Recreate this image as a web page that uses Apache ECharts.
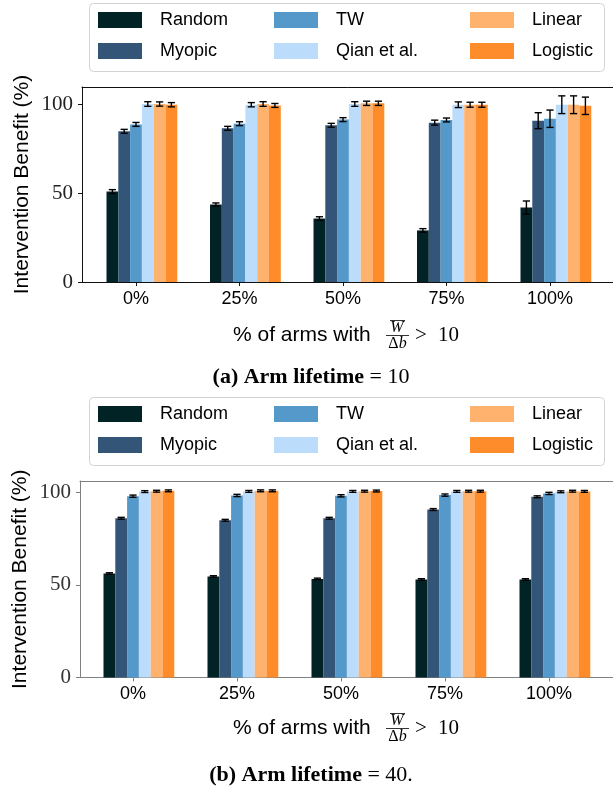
<!DOCTYPE html>
<html><head><meta charset="utf-8">
<script src="https://cdn.jsdelivr.net/npm/echarts@6/dist/echarts.min.js"></script>
<style>html,body{margin:0;padding:0;background:#fff}#c{width:613px;height:789px}</style>
</head><body><div id="c"></div>
<script>
// ---- data ----
const categories = ['0%', '25%', '50%', '75%', '100%'];
const methods = ['Random', 'Myopic', 'TW', 'Qian et al.', 'Linear', 'Logistic'];
const yTicks = [0, 50, 100];

// (a) Arm lifetime = 10
const random10   = [51.0, 43.7, 35.8, 29.1, 42.0];
const myopic10   = [85.0, 86.7, 88.4, 89.9, 91.0];
const tw10       = [88.9, 89.3, 91.6, 91.4, 92.1];
const qian10     = [100.4, 100.0, 100.4, 100.0, 100.0];
const linear10   = [100.4, 100.4, 100.8, 100.0, 100.0];
const logistic10 = [100.0, 99.6, 100.8, 100.0, 99.4];
const random10Err   = [1.1, 0.9, 1.0, 1.0, 3.7];
const myopic10Err   = [1.1, 1.1, 1.1, 1.4, 4.5];
const tw10Err       = [1.1, 1.1, 1.1, 1.1, 4.9];
const qian10Err     = [1.3, 1.2, 1.3, 1.6, 5.0];
const linear10Err   = [1.2, 1.3, 1.2, 1.4, 5.0];
const logistic10Err = [1.2, 1.1, 1.2, 1.4, 4.9];

// (b) Arm lifetime = 40
const random40   = [56.1, 54.5, 53.2, 52.9, 52.9];
const myopic40   = [85.9, 84.8, 85.9, 90.6, 97.5];
const tw40       = [97.8, 98.2, 98.0, 98.4, 99.3];
const qian40     = [100.3, 100.4, 100.4, 100.4, 100.2];
const linear40   = [100.5, 100.7, 100.5, 100.5, 100.5];
const logistic40 = [100.7, 100.7, 100.6, 100.5, 100.4];
const random40Err   = [0.4, 0.4, 0.4, 0.4, 0.4];
const myopic40Err   = [0.5, 0.5, 0.5, 0.5, 0.5];
const tw40Err       = [0.6, 0.6, 0.6, 0.6, 0.6];
const qian40Err     = [0.5, 0.5, 0.5, 0.5, 0.5];
const linear40Err   = [0.5, 0.5, 0.5, 0.5, 0.5];
const logistic40Err = [0.5, 0.5, 0.5, 0.5, 0.5];

const colors = ['#022326', '#335577', '#5598ca', '#bcdcfc', '#ffb26e', '#ff8c2a'];

// ---- layout ----
const BW = 11.8;
const panels = [
  { L: 82, T: 87, H: 195, M: 110, catL: 84.25, catW: 517.5, frame: '#111', lab: '#222',
    vals: [random10, myopic10, tw10, qian10, linear10, logistic10],
    errs: [random10Err, myopic10Err, tw10Err, qian10Err, linear10Err, logistic10Err],
    legTop: 3, yTitleX: 22, titleY: 335, capY: 377, cap: '{b|(a) Arm lifetime} = 10' },
  { L: 80, T: 481, H: 196.5, M: 106, catL: 81, catW: 520, frame: '#808080', lab: '#333',
    vals: [random40, myopic40, tw40, qian40, linear40, logistic40],
    errs: [random40Err, myopic40Err, tw40Err, qian40Err, linear40Err, logistic40Err],
    legTop: 397, yTitleX: 20, titleY: 728, capY: 775, cap: '{b|(b) Arm lifetime} = 40.' }
];

const grid = [], xAxis = [], yAxis = [], series = [], legend = [], graphic = [];
const sans = '"Liberation Sans", Arial, sans-serif';
const serif = '"Liberation Serif", "Times New Roman", serif';

panels.forEach((p, pi) => {
  const g0 = grid.length;
  grid.push({ left: p.L, top: p.T, width: 540, height: p.H, outerBoundsMode: 'none', containLabel: false });
  grid.push({ left: p.catL, top: p.T, width: p.catW, height: p.H, outerBoundsMode: 'none', containLabel: false });
  grid.push({ left: p.catL + BW / 2, top: p.T, width: p.catW, height: p.H, outerBoundsMode: 'none', containLabel: false });
  const g1 = g0 + 1, g2 = g0 + 2;
  const line = { show: true, lineStyle: { color: p.frame, width: 1 } };

  // frame: bottom + top spines, left spine with y ticks
  xAxis.push({ gridIndex: g0, type: 'value', min: 0, max: 1, position: 'bottom', axisLine: line,
    axisTick: { show: false }, axisLabel: { show: false }, splitLine: { show: false } });
  xAxis.push({ gridIndex: g0, type: 'value', min: 0, max: 1, position: 'top', axisLine: line,
    axisTick: { show: false }, axisLabel: { show: false }, splitLine: { show: false } });
  yAxis.push({ gridIndex: g0, type: 'value', min: 0, max: p.M, position: 'left',
    axisLine: line, splitLine: { show: false },
    axisTick: { show: true, length: 4, customValues: yTicks, lineStyle: { color: p.frame, width: 1 } },
    axisLabel: { customValues: yTicks, margin: 9, fontFamily: serif, fontSize: 21, color: p.lab,
      formatter: v => (v % 50 === 0 ? String(v) : '') } });

  const xl = xAxis.length;
  xAxis.push({ gridIndex: g1, type: 'category', data: categories, boundaryGap: true,
    axisLine: { show: false }, splitLine: { show: false },
    axisTick: { show: true, alignWithLabel: true, interval: 0, length: 4, lineStyle: { color: p.frame, width: 1 } },
    axisLabel: { interval: 0, margin: 8, fontFamily: sans, fontSize: 18, color: '#000' } });
  yAxis.push({ gridIndex: g1, type: 'value', show: false, min: 0, max: p.M });

  const xb = xAxis.length, yb = yAxis.length;
  xAxis.push({ gridIndex: g2, type: 'category', data: categories, show: false });
  yAxis.push({ gridIndex: g2, type: 'value', show: false, min: 0, max: p.M });

  const errData = [];
  methods.forEach((m, j) => {
    series.push({ type: 'bar', name: m, xAxisIndex: xb, yAxisIndex: yb, data: p.vals[j],
      barWidth: BW, barGap: '0%', itemStyle: { color: colors[j] }, silent: true });
    p.vals[j].forEach((v, c) => errData.push([c, v, p.errs[j][c], j]));
  });
  series.push({ type: 'custom', xAxisIndex: xb, yAxisIndex: yb, data: errData, z: 10, silent: true,
    renderItem: (params, api) => {
      const c = api.value(0), v = api.value(1), e = api.value(2), j = api.value(3);
      const lo = api.coord([c, v - e]), hi = api.coord([c, v + e]);
      const x = lo[0] + (j - 2.5) * BW, h = 3.6;
      const st = { stroke: '#000', lineWidth: 1.4 };
      return { type: 'group', children: [
        { type: 'line', shape: { x1: x, y1: lo[1], x2: x, y2: hi[1] }, style: st },
        { type: 'line', shape: { x1: x - h, y1: lo[1], x2: x + h, y2: lo[1] }, style: st },
        { type: 'line', shape: { x1: x - h, y1: hi[1], x2: x + h, y2: hi[1] }, style: st }
      ] };
    } });

  // legend (matplotlib ncol=3, column-major)
  const colSw = [98, 274, 470];
  const rowC = [p.legTop + 17, p.legTop + 48];
  methods.forEach((m, j) => {
    const col = Math.floor(j / 2), row = j % 2;
    legend.push({ data: [m], left: colSw[col], top: rowC[row] - 11, orient: 'horizontal', padding: 0,
      itemWidth: 44, itemHeight: 16, itemGap: 0, icon: 'rect', selectedMode: false,
      textStyle: { fontFamily: sans, fontSize: 18, color: '#000', lineHeight: 22, padding: [0, 0, 0, 13] } });
  });
  graphic.push({ type: 'rect', z: -1, shape: { x: 89.5, y: p.legTop + 0.5, width: 515, height: 68, r: 4 },
    style: { fill: '#fff', stroke: '#d3d3d3', lineWidth: 1 } });

  // y-axis title
  graphic.push({ type: 'text', x: p.yTitleX, y: p.T + p.H / 2, rotation: Math.PI / 2,
    style: { text: 'Intervention Benefit (%)', font: '21px ' + sans, fill: '#000', align: 'center', verticalAlign: 'middle' } });

  // x-axis title: "% of arms with  W̄/Δb > 10"
  const ty = p.titleY;
  graphic.push({ type: 'text', x: 233, y: ty, style: { text: '% of arms with', font: '21px ' + sans, fill: '#000', verticalAlign: 'middle' } });
  graphic.push({ type: 'text', x: 397, y: ty - 7, style: { text: 'W', font: 'italic 16px ' + serif, fill: '#000', align: 'center', verticalAlign: 'middle' } });
  graphic.push({ type: 'line', shape: { x1: 390, y1: ty - 14.5, x2: 405, y2: ty - 14.5 }, style: { stroke: '#000', lineWidth: 0.8 } });
  graphic.push({ type: 'line', shape: { x1: 386, y1: ty + 0.5, x2: 409, y2: ty + 0.5 }, style: { stroke: '#000', lineWidth: 0.8 } });
  graphic.push({ type: 'text', x: 397.5, y: ty + 8.5, style: { text: '{u|Δ}{i|b}', fill: '#000', align: 'center', verticalAlign: 'middle',
    rich: { u: { fontFamily: serif, fontSize: 16 }, i: { fontFamily: serif, fontSize: 16, fontStyle: 'italic' } } } });
  graphic.push({ type: 'text', x: 415, y: ty, style: { text: '>', font: '21px ' + serif, fill: '#000', verticalAlign: 'middle' } });
  graphic.push({ type: 'text', x: 438, y: ty, style: { text: '10', font: '21px ' + serif, fill: '#000', verticalAlign: 'middle' } });

  // sub-caption
  graphic.push({ type: 'text', x: 311, y: p.capY, style: { text: p.cap, fill: '#000', align: 'center', verticalAlign: 'middle',
    fontFamily: serif, fontSize: 22,
    rich: { b: { fontFamily: serif, fontSize: 22, fontWeight: 'bold' } } } });
});

const chart = echarts.init(document.getElementById('c'), null, { renderer: 'canvas' });
chart.setOption({ animation: false, backgroundColor: '#fff', grid, xAxis, yAxis, series, legend, graphic });
</script></body></html>
